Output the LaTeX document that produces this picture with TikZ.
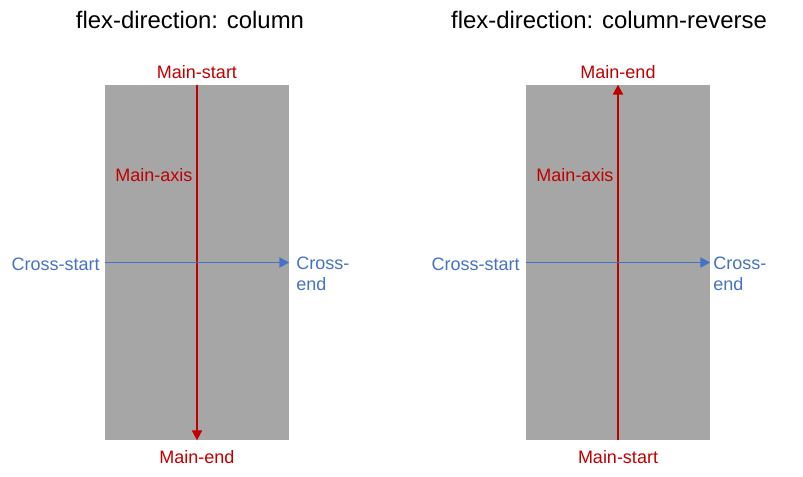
\documentclass[tikz,border=0pt]{standalone}
\usepackage{fontspec}
\setmainfont{Liberation Sans}
\usetikzlibrary{arrows.meta}
\definecolor{boxgray}{HTML}{A6A6A6}
\definecolor{mainred}{HTML}{C00000}
\definecolor{crossblue}{HTML}{4472C4}
\tikzset{
  flexbox/.style={fill=boxgray, minimum width=4.6cm, minimum height=8.875cm, inner sep=0pt},
  mainlbl/.style={text=mainred, font=\fontsize{12.8}{15}\selectfont, inner sep=0pt},
  crosslbl/.style={text=crossblue, font=\fontsize{12.8}{15}\selectfont, inner sep=0pt, align=left},
  title/.style={font=\fontsize{17}{20}\selectfont, inner sep=0pt},
  mainaxis/.style={mainred, line width=1.4pt, -{Triangle[length=7pt,width=7pt]}},
  crossaxis/.style={crossblue, line width=1.4pt, -{Triangle[length=7pt,width=7pt]}}
}
\begin{document}
\begin{tikzpicture}[x=0.025cm, y=-0.025cm]
\useasboundingbox (0,0) rectangle (803,477);
\node[title] (tl) at (190,20) {flex-direction: column};
\node[title] (tr) at (609,20) {flex-direction: column-reverse};

% column
\node[flexbox] (boxL) at (197,262.5) {};
\node[mainlbl] (msL) at (197,72) {Main-start};
\node[mainlbl] (meL) at (197,457) {Main-end};
\node[mainlbl] (maL) at (154,175) {Main-axis};
\node[crosslbl, anchor=east] (csL) at (100,264) {Cross-start};
\node[crosslbl, anchor=north west] (ceL) at (296,257) {Cross-\\end};
\draw[mainaxis] (boxL.north) -- (boxL.south);
\draw[crossaxis] (boxL.west) -- (boxL.east);

% column-reverse
\node[flexbox] (boxR) at (618,262.5) {};
\node[mainlbl] (meR) at (618,72) {Main-end};
\node[mainlbl] (msR) at (618,457) {Main-start};
\node[mainlbl] (maR) at (575,175) {Main-axis};
\node[crosslbl, anchor=east] (csR) at (520,264) {Cross-start};
\node[crosslbl, anchor=north west] (ceR) at (713,257) {Cross-\\end};
\draw[mainaxis] (boxR.south) -- (boxR.north);
\draw[crossaxis] (boxR.west) -- (boxR.east);
\end{tikzpicture}
\end{document}
